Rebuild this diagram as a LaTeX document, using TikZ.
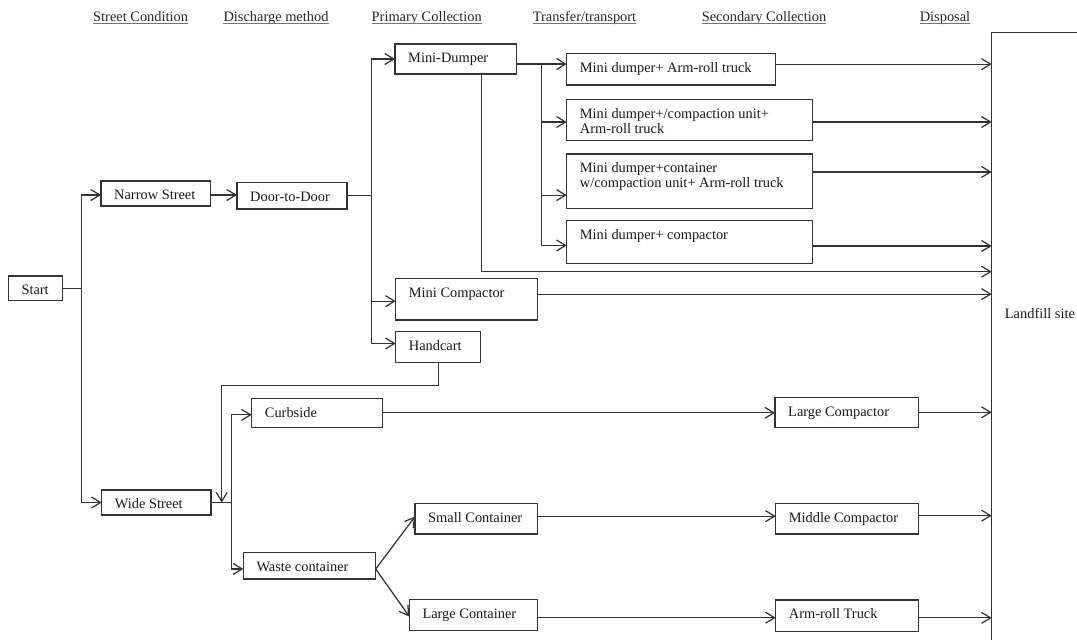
\documentclass[tikz,border=0pt]{standalone}
\usepackage{fontspec}
\setmainfont{Liberation Serif}
\usetikzlibrary{arrows.meta,calc}
\tikzset{
 box/.style={draw=black!80, line width=1.25pt, inner sep=0pt, outer sep=0pt, rectangle},
 lbl/.style={inner sep=0pt, align=left, text=black!90, font=\fontsize{14.4}{15}\selectfont},
 hdr/.style={inner sep=0pt, text=black!85, font=\fontsize{14.4}{15}\selectfont},
 conn/.style={draw=black!80, line width=1.25pt},
 arr/.style={conn, -{Straight Barb[length=9pt,width=11pt]}},
 uline/.style={draw=black!55, line width=1pt},
}
\newcommand\bx[6]{%
  \node[box, anchor=north west, minimum width={(#4-#2)*1pt}, minimum height={(#5-#3)*1pt}] (#1) at (#2,#3) {};
  \node[lbl, anchor=north west] (#1-t) at (#2+13,#3+7.7) {\rule{0pt}{11pt}#6};
}
\begin{document}
\begin{tikzpicture}[x=1pt,y=-1pt]
\useasboundingbox (0,0) rectangle (1077,640);
% headers
\node[hdr, anchor=base] (h1) at (140.6,21) {Street Condition};
\node[hdr, anchor=base] (h2) at (276,21) {Discharge method};
\node[hdr, anchor=base] (h3) at (426.7,21) {Primary Collection};
\node[hdr, anchor=base] (h4) at (584.5,21) {Transfer/transport};
\node[hdr, anchor=base] (h5) at (764,21) {Secondary Collection};
\node[hdr, anchor=base] (h6) at (945,21) {Disposal};
\foreach \h in {h1,h2,h3,h4,h5,h6}{
  \draw[uline] ([yshift=-2.5pt]\h.base west) -- ([yshift=-2.5pt]\h.base east);
}
% boxes
\bx{start}{8.3}{276}{62.3}{300.7}{Start}
\bx{narrow}{101}{181}{210.7}{206}{Narrow Street}
\bx{door}{237}{182.7}{347}{209}{Door-to-Door}
\bx{wide}{101.7}{490}{211}{515}{Wide Street}
\bx{minid}{395}{44}{516.7}{74}{Mini-Dumper}
\bx{minic}{395.7}{278.3}{537.3}{320}{Mini Compactor}
\bx{hand}{395.7}{331.7}{480.7}{362.3}{Handcart}
\bx{curb}{251.7}{398.3}{382.7}{427.3}{Curbside}
\bx{waste}{243.3}{552.3}{375.7}{579}{Waste container}
\bx{smallc}{415}{503.3}{537.7}{534}{Small Container}
\bx{largec}{409.3}{599.3}{537.7}{630.7}{Large Container}
\bx{s1}{566.7}{53.3}{775.7}{85}{Mini dumper+ Arm-roll truck}
\bx{s2}{566.7}{99.3}{812.3}{140.7}{Mini dumper+/compaction unit+\\Arm-roll truck}
\bx{s3}{566.7}{154}{812.3}{208.3}{Mini dumper+container\\w/compaction unit+ Arm-roll truck}
\bx{s4}{566.7}{220.7}{812.3}{263.3}{Mini dumper+ compactor}
\bx{largecomp}{775}{397.3}{918.3}{427.3}{Large Compactor}
\bx{middlecomp}{775.7}{503.3}{918.3}{534}{Middle Compactor}
\bx{armroll}{775.7}{600}{918.3}{631.7}{Arm-roll Truck}
\node[box, anchor=north west, minimum width=140pt, minimum height=660pt] (landfill) at (991.7,32.3) {};
\node[lbl, anchor=base west] (landfill-t) at (1004.7,318) {Landfill site};
% connectors
\draw[conn] (start.east) -- ++(19.4,0) coordinate (j1);
\draw[arr] (j1) |- ([yshift=-1.5pt]narrow.west);
\draw[arr] (j1) |- (wide.west);
\draw[arr] ([yshift=-1.5pt]narrow.east) -- ([yshift=-1.5pt]narrow.east -| door.west);
\draw[conn] (door.east) -- ++(24.7,0) coordinate (j2);
\draw[arr] (j2) |- (minid.west);
\draw[arr] (j2) |- ([yshift=-2pt]minic.west);
\draw[arr] (j2) |- ([yshift=3.5pt]hand.west);
\draw[conn] ([yshift=-5pt]minid.east) -- ++(25,0) coordinate (j4);
\draw[arr] (j4) -- (j4 -| s1.west);
\draw[arr] (j4) |- ([yshift=-2pt]s2.west);
\draw[arr] (j4) |- ([yshift=-14pt]s3.west);
\draw[arr] (j4) |- ([yshift=-3.5pt]s4.west);
\coordinate (mdbot) at (481.7,271.7);
\draw[arr] (minid.south -| mdbot) -- (mdbot) -- (mdbot -| landfill.west);
\draw[arr] ([yshift=5pt]s1.east) -- ([yshift=5pt]s1.east -| landfill.west);
\draw[arr] ([yshift=-2pt]s2.east) -- ([yshift=-2pt]s2.east -| landfill.west);
\draw[arr] ([yshift=9.2pt]s3.east) -- ([yshift=9.2pt]s3.east -| landfill.west);
\draw[arr] ([yshift=-4pt]s4.east) -- ([yshift=-4pt]s4.east -| landfill.west);
\draw[arr] ([yshift=5pt]minic.east) -- ([yshift=5pt]minic.east -| landfill.west);
\coordinate (hc1) at (221.7,385.7);
\draw[arr] (hand.south) |- (hc1) -- (hc1 |- wide.east);
\draw[conn] (wide.east) -- ++(20.7,0) coordinate (j3);
\draw[arr] (j3) |- ([yshift=-2pt]curb.west);
\draw[arr] (j3) |- ([yshift=-3.3pt]waste.west);
\draw[arr] (curb.east) -- (curb.east -| largecomp.west);
\draw[arr] (largecomp.east) -- (largecomp.east -| landfill.west);
\draw[arr] ([yshift=-3.3pt]waste.east) -- ([yshift=2pt]smallc.west);
\draw[arr] ([yshift=-3.3pt]waste.east) -- ([yshift=-1.5pt]largec.west);
\draw[arr] ([yshift=2.5pt]smallc.east) -- ([yshift=2.5pt]smallc.east -| middlecomp.west);
\draw[arr] ([yshift=3pt]middlecomp.east) -- ([yshift=3pt]middlecomp.east -| landfill.west);
\draw[arr] ([yshift=-2.7pt]largec.east) -- ([yshift=-2.7pt]largec.east -| armroll.west);
\draw[arr] ([yshift=-2pt]armroll.east) -- ([yshift=-2pt]armroll.east -| landfill.west);
\end{tikzpicture}
\end{document}
